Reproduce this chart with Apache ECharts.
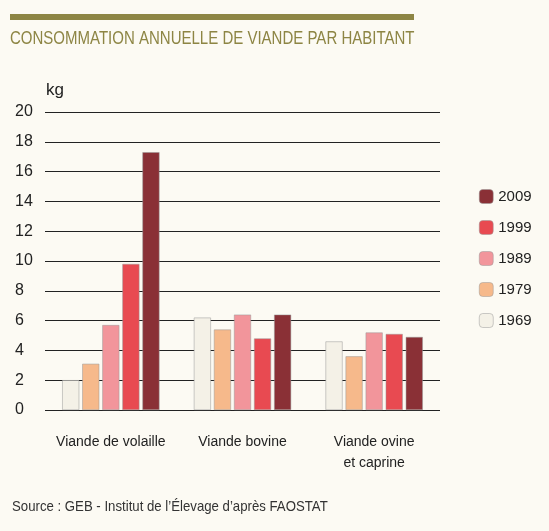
<!DOCTYPE html>
<html><head><meta charset="utf-8">
<script src="https://cdn.jsdelivr.net/npm/echarts@6/dist/echarts.min.js"></script>
<style>html,body{margin:0;background:#fcfaf3}#c{width:549px;height:531px}</style>
</head><body><div id="c"></div>
<script>
var categories = ['Viande de volaille', 'Viande bovine', 'Viande ovine\net caprine'];
var years = ['1969', '1979', '1989', '1999', '2009'];
var values = {
  '1969': [2.0, 6.2, 4.6],
  '1979': [3.1, 5.4, 3.6],
  '1989': [5.7, 6.4, 5.2],
  '1999': [9.8, 4.8, 5.1],
  '2009': [17.3, 6.4, 4.9]
};
var yTicks = [0, 2, 4, 6, 8, 10, 12, 14, 16, 18, 20];
var colors = {'1969': '#f4f1e7', '1979': '#f6b98b', '1989': '#f2959b', '1999': '#e84a51', '2009': '#8a3036'};
var font = '"Liberation Sans Narrow", "Liberation Sans", sans-serif';

var chart = echarts.init(document.getElementById('c'));
chart.setOption({
  backgroundColor: '#fcfaf3',
  textStyle: {fontFamily: font},
  graphic: [
    {type: 'rect', shape: {x: 10, y: 14, width: 404, height: 6}, style: {fill: '#8d8544'}},
    {type: 'text', x: 10, y: 29, scaleX: 0.79, style: {text: 'CONSOMMATION ANNUELLE DE VIANDE PAR HABITANT', font: '19px ' + font, fill: '#8d8544'}},
    {type: 'text', x: 46, y: 82, style: {text: 'kg', font: '17px ' + font, fill: '#222'}},
    {type: 'text', x: 12, y: 499, scaleX: 0.88, style: {text: 'Source : GEB - Institut de l\u2019\u00c9levage d\u2019apr\u00e8s FAOSTAT', font: '15px ' + font, fill: '#333'}}
  ],
  legend: {
    orient: 'vertical', left: 474, top: 184, itemGap: 16,
    itemWidth: 14, itemHeight: 14,
    data: years.slice().reverse(),
    textStyle: {fontSize: 15, color: '#222', fontFamily: font},
    itemStyle: {borderColor: '#999', borderWidth: 0.5}
  },
  grid: {left: 45, right: 109, top: 112, bottom: 121},
  xAxis: {
    type: 'category', data: categories,
    axisLine: {show: false}, axisTick: {show: false},
    axisLabel: {interval: 0, fontSize: 14, color: '#222', margin: 22, lineHeight: 21, fontFamily: font}
  },
  yAxis: {
    type: 'value', min: 0, max: 20, interval: 2,
    axisLine: {show: false}, axisTick: {show: false},
    splitLine: {lineStyle: {color: '#222', width: 1}},
    axisLabel: {fontSize: 16, color: '#222', margin: 30, align: 'left', fontFamily: font,
      formatter: function (v) { return yTicks.indexOf(v) >= 0 ? String(v) : ''; }}
  },
  series: years.map(function (y) {
    return {
      name: y, type: 'bar', data: values[y], barWidth: 17, barGap: '18%',
      itemStyle: {color: colors[y], borderColor: '#999', borderWidth: 0.5}
    };
  })
});
</script></body></html>
